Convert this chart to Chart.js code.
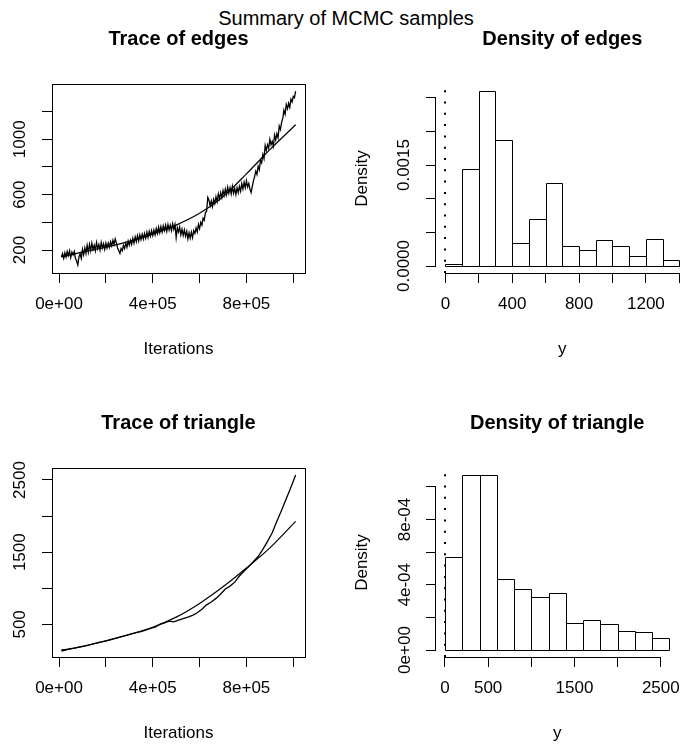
<!DOCTYPE html>
<html>
<head>
<meta charset="utf-8">
<script src="https://cdn.jsdelivr.net/npm/chart.js@4"></script>
<style>
  body { margin: 0; background: #fff; }
  #page { position: relative; width: 692px; height: 744px; overflow: hidden; background: #fff; }
  #page canvas { position: absolute; }
  #main { position: absolute; left: 0; top: 6px; width: 692px; text-align: center;
          font: 20px/24px 'Liberation Sans', Arial, sans-serif; color: #000; }
</style>
</head>
<body>
<div id="page">
  <div id="main">Summary of MCMC samples</div>
  <canvas id="traceEdges" width="346" height="372" style="left:0;top:0"></canvas>
  <canvas id="densEdges" width="346" height="372" style="left:346px;top:0"></canvas>
  <canvas id="traceTri" width="346" height="372" style="left:0;top:384px"></canvas>
  <canvas id="densTri" width="346" height="372" style="left:346px;top:384px"></canvas>
</div>
<script>
// iteration axis shared by both trace plots
const iterTicks = [0, 200000, 400000, 600000, 800000, 1000000];
const iterLabels = ['0e+00', '', '4e+05', '', '8e+05', ''];

// edges trace (one sample every 5000 iterations)
const edgesStart = 10000, edgesThin = 5000;
const edgesTrace = [
  150, 175, 140, 180, 150, 190, 160, 195, 145, 185, 165, 190, 140, 120, 92, 150, 175, 140, 205, 165,
  215, 175, 235, 185, 240, 195, 250, 205, 235, 195, 255, 210, 240, 200, 255, 215, 245, 205, 250, 215,
  250, 220, 260, 230, 270, 240, 280, 250, 215, 195, 175, 210, 195, 235, 210, 250, 220, 265, 235, 270,
  240, 285, 250, 295, 260, 305, 265, 310, 275, 315, 280, 320, 285, 330, 290, 335, 300, 340, 305, 345,
  310, 355, 320, 365, 325, 370, 330, 375, 340, 380, 335, 385, 345, 380, 340, 390, 350, 385, 290, 360,
  330, 365, 310, 350, 305, 345, 300, 335, 280, 325, 285, 330, 290, 340, 320, 360, 330, 385, 355, 400,
  380, 430, 415, 470, 480, 580, 560, 520, 555, 515, 565, 535, 585, 550, 605, 570, 615, 580, 630, 595,
  640, 600, 655, 610, 650, 605, 660, 610, 645, 600, 650, 615, 660, 625, 680, 640, 690, 650, 700, 655,
  680, 640, 615, 660, 700, 730, 770, 745, 805, 780, 850, 830, 890, 860, 955, 920, 960, 935, 1000, 960,
  985, 950, 1030, 995, 1040, 1010, 1095, 1070, 1120, 1150, 1210, 1180, 1250, 1220, 1260, 1230, 1290, 1270, 1310, 1300,
  1348
];
const edgesSmoothIter = [10000, 100000, 200000, 300000, 400000, 500000, 600000, 700000, 800000, 900000, 1010000];
const edgesSmooth = [150, 185, 220, 262, 315, 380, 465, 585, 750, 925, 1105];
const edgesTraceTicks = [200, 400, 600, 800, 1000, 1200];
const edgesTraceLabels = ['200', '', '600', '', '1000', ''];

// triangle trace (one sample every 20000 iterations)
const triStart = 10000, triThin = 20000;
const triTrace = [
  145, 152, 163, 175, 188, 200, 215, 232, 250, 265,
  280, 298, 315, 333, 350, 368, 385, 398, 420, 445,
  460, 500, 520, 545, 535, 560, 580, 600, 625, 660,
  710, 770, 810, 860, 920, 990, 1030, 1085, 1170, 1240,
  1300, 1370, 1440, 1540, 1650, 1770, 1930, 2080, 2240, 2400,
  2569
];
const triSmoothIter = [10000, 100000, 200000, 300000, 400000, 500000, 600000, 700000, 800000, 900000, 1010000];
const triSmooth = [130, 195, 270, 360, 460, 600, 790, 1020, 1280, 1560, 1927];
const triTraceTicks = [500, 1000, 1500, 2000, 2500];
const triTraceLabels = ['500', '', '1500', '', '2500'];

// histograms
const edgesBreaks = [0, 100, 200, 300, 400, 500, 600, 700, 800, 900, 1000, 1100, 1200, 1300, 1400];
const edgesDensity = [0.000025, 0.00144, 0.0026, 0.001875, 0.00034, 0.000695, 0.00123,
                      0.00029, 0.000235, 0.00038, 0.00029, 0.000155, 0.0004, 0.000085];
const edgesDensXTicks = [0, 200, 400, 600, 800, 1000, 1200, 1400];
const edgesDensXLabels = ['0', '', '400', '', '800', '', '1200', ''];
const edgesDensYTicks = [0, 0.0005, 0.001, 0.0015, 0.002, 0.0025];
const edgesDensYLabels = ['0.0000', '', '', '0.0015', '', ''];

const triBreaks = [0, 200, 400, 600, 800, 1000, 1200, 1400, 1600, 1800, 2000, 2200, 2400, 2600];
const triDensity = [0.00057, 0.001073, 0.001073, 0.000433, 0.000373, 0.000322, 0.000347,
                    0.000168, 0.000185, 0.00016, 0.000115, 0.000111, 0.000076];
const triDensXTicks = [0, 500, 1000, 1500, 2000, 2500];
const triDensXLabels = ['0', '500', '', '1500', '', '2500'];
const triDensYTicks = [0, 0.0002, 0.0004, 0.0006, 0.0008, 0.001];
const triDensYLabels = ['0e+00', '', '4e-04', '', '8e-04', ''];

const ablineX = 0;

Chart.defaults.font.family = "'Liberation Sans', Arial, sans-serif";
Chart.defaults.font.size = 17;
Chart.defaults.color = '#000';

// box round the plot region
const boxPlugin = {
  id: 'box',
  afterDatasetsDraw(chart) {
    const { ctx, chartArea: a } = chart;
    ctx.save();
    ctx.strokeStyle = '#000';
    ctx.lineWidth = 1;
    ctx.strokeRect(Math.round(a.left) + 0.5, Math.round(a.top) + 0.5,
                   Math.round(a.right - a.left), Math.round(a.bottom - a.top));
    ctx.restore();
  }
};

// outline of histogram cells, on whole pixels so neighbours share one edge
const histOutline = {
  id: 'histOutline',
  afterDatasetsDraw(chart) {
    const { ctx } = chart;
    const meta = chart.getDatasetMeta(0);
    ctx.save();
    ctx.strokeStyle = '#000';
    ctx.lineWidth = 1;
    ctx.beginPath();
    meta.data.forEach(bar => {
      const p = bar.getProps(['x', 'y', 'base', 'width'], true);
      const l = Math.round(p.x - p.width / 2) + 0.5, r = Math.round(p.x + p.width / 2) + 0.5;
      const t = Math.round(p.y) + 0.5, b = Math.round(p.base) + 0.5;
      ctx.rect(l, t, r - l, b - t);
    });
    ctx.stroke();
    ctx.restore();
  }
};

// R style axis lines, only from first to last tick
const axisLinePlugin = {
  id: 'axisLine',
  afterDraw(chart) {
    const { ctx, chartArea: a, scales: { x, y } } = chart;
    const xt = x.ticks, yt = y.ticks;
    ctx.save();
    ctx.strokeStyle = '#000';
    ctx.lineWidth = 1;
    ctx.beginPath();
    ctx.moveTo(x.getPixelForValue(xt[0].value), Math.round(a.bottom) + 0.5);
    ctx.lineTo(x.getPixelForValue(xt[xt.length - 1].value), Math.round(a.bottom) + 0.5);
    ctx.moveTo(Math.round(a.left) - 0.5, y.getPixelForValue(yt[0].value));
    ctx.lineTo(Math.round(a.left) - 0.5, y.getPixelForValue(yt[yt.length - 1].value));
    ctx.stroke();
    ctx.restore();
  }
};

// dotted vertical line at 0
const ablinePlugin = {
  id: 'abline',
  afterDatasetsDraw(chart) {
    const { ctx, chartArea: a, scales: { x } } = chart;
    const px = Math.round(x.getPixelForValue(ablineX));
    ctx.save();
    ctx.strokeStyle = '#000';
    ctx.lineWidth = 2;
    ctx.setLineDash([2, 9.3]);
    ctx.beginPath();
    ctx.moveTo(px, a.bottom);
    ctx.lineTo(px, a.top);
    ctx.stroke();
    ctx.restore();
  }
};

function axis(pos, min, max, ticks, labels, size, tickOpts, title) {
  return {
    type: 'linear', position: pos, min: min, max: max, bounds: 'data', offset: false,
    border: { display: false },
    grid: { display: true, drawOnChartArea: false, drawTicks: true, tickLength: 10, color: '#000', offset: false },
    afterBuildTicks: s => { s.ticks = ticks.map(v => ({ value: v })); },
    afterFit: s => { if (pos === 'left') s.width = size; else s.height = size; },
    ticks: Object.assign({ autoSkip: false, callback: (v, i) => labels[i] }, tickOpts),
    title: title
  };
}

function yTickOpts(pad) {
  return { minRotation: 90, maxRotation: 90, crossAlign: 'center', padding: pad };
}
const xTickOpts = { maxRotation: 0, minRotation: 0, padding: 11.3 };

function titleOpts(text) {
  return { display: true, text: text, fullSize: false, font: { size: 20, weight: 'bold' },
           padding: { top: 27, bottom: 33 } };
}

function tracePanel(id, title, start, thin, trace, smoothIter, smooth, yMin, yMax, yTicks, yLabels) {
  const samples = trace.map((v, i) => ({ x: start + i * thin, y: v }));
  const lowess = smoothIter.map((it, i) => ({ x: it, y: smooth[i] }));
  new Chart(document.getElementById(id), {
    type: 'line',
    data: {
      datasets: [
        { data: samples, borderColor: '#000', borderWidth: 1.3, pointRadius: 0, tension: 0 },
        { data: lowess, borderColor: '#000', borderWidth: 1.2, pointRadius: 0, cubicInterpolationMode: 'monotone' }
      ]
    },
    options: {
      responsive: false, animation: false, events: [],
      layout: { padding: { left: 0, right: 41, top: 0, bottom: 0 } },
      plugins: { legend: { display: false }, tooltip: { enabled: false }, title: titleOpts(title) },
      scales: {
        x: axis('bottom', -30000, 1050000, iterTicks, iterLabels, 99, xTickOpts,
                { display: true, text: 'Iterations', padding: { top: 0, bottom: 12.8 } }),
        y: axis('left', yMin, yMax, yTicks, yLabels, 52, yTickOpts(2.3), { display: false })
      }
    },
    plugins: [boxPlugin]
  });
}

function densPanel(id, title, breaks, dens, xMin, xMax, xTicks, xLabels, yMin, yMax, yTicks, yLabels, yPad) {
  const bars = dens.map((d, i) => ({ x: (breaks[i] + breaks[i + 1]) / 2, y: d }));
  new Chart(document.getElementById(id), {
    type: 'bar',
    data: {
      datasets: [{
        data: bars, backgroundColor: '#fff', borderWidth: 0,
        barPercentage: 1, categoryPercentage: 1, inflateAmount: 0
      }]
    },
    options: {
      responsive: false, animation: false, events: [],
      layout: { padding: { left: 0, right: 3.3, top: 0, bottom: 0 } },
      plugins: { legend: { display: false }, tooltip: { enabled: false }, title: titleOpts(title) },
      scales: {
        x: axis('bottom', xMin, xMax, xTicks, xLabels, 99, xTickOpts,
                { display: true, text: 'y', padding: { top: 0, bottom: 12.8 } }),
        y: axis('left', yMin, yMax, yTicks, yLabels, 90, yTickOpts(yPad),
                { display: true, text: 'Density', padding: { top: 6.5, bottom: 0 } })
      }
    },
    plugins: [histOutline, axisLinePlugin, ablinePlugin]
  });
}

tracePanel('traceEdges', 'Trace of edges', edgesStart, edgesThin, edgesTrace,
           edgesSmoothIter, edgesSmooth, 34, 1399, edgesTraceTicks, edgesTraceLabels);
tracePanel('traceTri', 'Trace of triangle', triStart, triThin, triTrace,
           triSmoothIter, triSmooth, 48, 2666, triTraceTicks, triTraceLabels);
densPanel('densEdges', 'Density of edges', edgesBreaks, edgesDensity, -56, 1456,
          edgesDensXTicks, edgesDensXLabels, -0.000104, 0.002704, edgesDensYTicks, edgesDensYLabels, -4.8);
densPanel('densTri', 'Density of triangle', triBreaks, triDensity, -104, 2704,
          triDensXTicks, triDensXLabels, -0.0000429, 0.001116, triDensYTicks, triDensYLabels, -2.7);
</script>
</body>
</html>
